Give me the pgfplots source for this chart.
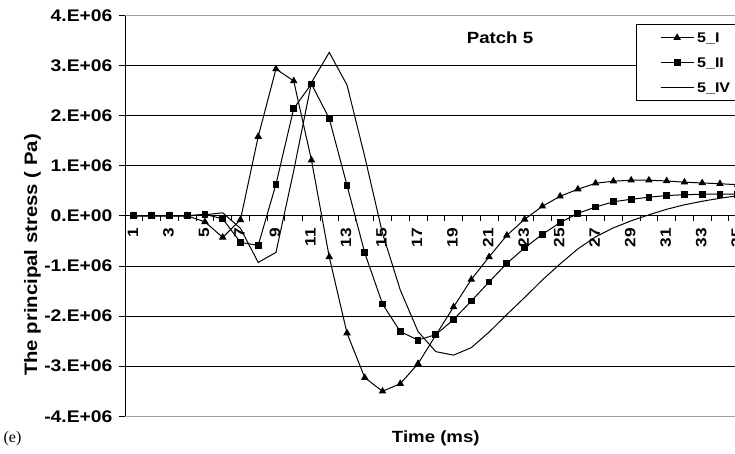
\documentclass[border=0pt]{standalone}
\usepackage{pgfplots}
\usepackage{pgfplotstable}
\pgfplotsset{compat=1.18}
\usepackage{fontspec}
\setmainfont{Liberation Serif}
\newfontfamily\lab[FakeStretch=1.15]{Liberation Sans}
\newfontfamily\ylab[FakeStretch=1.13]{Liberation Sans}
\newcommand{\tickfont}{\lab\bfseries\fontsize{16.2}{19}\selectfont}
\newcommand{\ytickfont}{\lab\bfseries\fontsize{16.8}{19}\selectfont}
\newcommand{\xtickfont}{\lab\bfseries\fontsize{15}{18}\selectfont}
\newcommand{\legfont}{\lab\bfseries\fontsize{14}{17}\selectfont}

% principal stress (Pa) at patch 5, one sample per ms
\pgfplotstableread{
t   s
1   0
2   0
3   0
4   0
5   -120000
6   -430000
7   -80000
8   1580000
9   2930000
10  2690000
11  1110000
12  -820000
13  -2340000
14  -3230000
15  -3500000
16  -3350000
17  -2950000
18  -2380000
19  -1820000
20  -1270000
21  -820000
22  -390000
23  -70000
24  190000
25  390000
26  530000
27  650000
28  690000
29  710000
30  710000
31  695000
32  670000
33  655000
34  640000
35  620000
}\seriesI
\pgfplotstableread{
t   s
1   0
2   0
3   0
4   0
5   30000
6   -60000
7   -530000
8   -590000
9   630000
10  2140000
11  2630000
12  1940000
13  610000
14  -740000
15  -1760000
16  -2310000
17  -2480000
18  -2370000
19  -2070000
20  -1700000
21  -1320000
22  -950000
23  -640000
24  -370000
25  -135000
26  50000
27  175000
28  280000
29  330000
30  370000
31  405000
32  420000
33  430000
34  430000
35  430000
}\seriesII
\pgfplotstableread{
t   s
1   0
2   0
3   0
4   0
5   20000
6   60000
7   -250000
8   -930000
9   -730000
10  900000
11  2660000
12  3260000
13  2610000
14  1180000
15  -350000
16  -1480000
17  -2310000
18  -2710000
19  -2780000
20  -2630000
21  -2320000
22  -1970000
23  -1630000
24  -1280000
25  -960000
26  -660000
27  -420000
28  -240000
29  -100000
30  20000
31  130000
32  220000
33  290000
34  350000
35  400000
}\seriesIV

\begin{document}
\begin{tikzpicture}
\begin{axis}[
  at={(125pt,37.7pt)}, anchor=south west,
  scale only axis, width=621.6pt, height=401pt,
  xmin=0.5, xmax=35.5, ymin=-4000000, ymax=4000000,
  scaled y ticks=false,
  axis x line=middle, axis y line=left,
  x axis line style={-, line width=0.9pt},
  y axis line style={-, line width=0.9pt},
  tick align=outside,
  major tick length=6pt, minor tick length=5pt,
  xtick={1,3,...,35},
  xticklabels={1,3,5,7,9,11,13,15,17,19,21,23,25,27,29,31,33,35},
  minor xtick={0.5,1.5,...,35.5},
  major x tick style={draw=none},
  minor x tick style={black, line width=0.8pt},
  ytick={-4000000,-3000000,-2000000,-1000000,0,1000000,2000000,3000000,4000000},
  yticklabels={-4.E+06,-3.E+06,-2.E+06,-1.E+06,0.E+00,1.E+06,2.E+06,3.E+06,4.E+06},
  major y tick style={black, line width=0.8pt},
  yticklabel style={font=\ytickfont, anchor=east, xshift=-3pt},
  xticklabel style={font=\xtickfont, yshift=-3pt, xshift=-1pt, rotate=90, anchor=east},
  ymajorgrids, major grid style={black, line width=0.8pt},
  legend style={at={(axis description cs:0.8216,0.9783)}, anchor=north west,
    draw=black, line width=0.8pt, fill=white, font=\legfont,
    inner xsep=24pt, inner ysep=6.3pt, row sep=10.7pt,
    nodes={inner sep=2pt, text height=10pt, text depth=0pt},
    /tikz/every odd column/.append style={column sep=1pt}},
  legend cell align=left,
  legend image code/.code={\draw[mark repeat=2,mark phase=2,#1]
    plot coordinates {(0pt,0pt) (16.5pt,0pt) (33pt,0pt)};},
]
\addplot[black, line width=1pt, mark=triangle*, mark size=3.4pt] table[x=t,y=s] {\seriesI};
\addlegendentry{\makebox[44pt][l]{5\_I}}
\addplot[black, line width=1pt, mark=square*, mark size=2.9pt] table[x=t,y=s] {\seriesII};
\addlegendentry{\makebox[44pt][l]{5\_II}}
\addplot[black, line width=1pt, no marks] table[x=t,y=s] {\seriesIV};
\addlegendentry{\makebox[44pt][l]{5\_IV}}
\draw[gray!75, line width=0.9pt] (axis cs:0.5,4000000) -- (axis cs:35.5,4000000);
\draw[gray!75, line width=0.9pt] (axis cs:0.5,-4000000) -- (axis cs:35.5,-4000000);
\end{axis}
\node[anchor=base, font=\tickfont] at (500pt,410pt) {Patch 5};
\node[anchor=base, font=\tickfont] at (435.8pt,11pt) {Time (ms)};
\node[anchor=base, rotate=90, font={\ylab\bfseries\fontsize{18}{21}\selectfont}] at (37pt,199pt) {The principal stress ( Pa)};
\node[font={\fontsize{16}{19}\selectfont}] at (12.5pt,15pt) {(e)};
\pgfresetboundingbox
\path[use as bounding box] (0,0) rectangle (735pt,454pt);
\end{tikzpicture}
\end{document}
